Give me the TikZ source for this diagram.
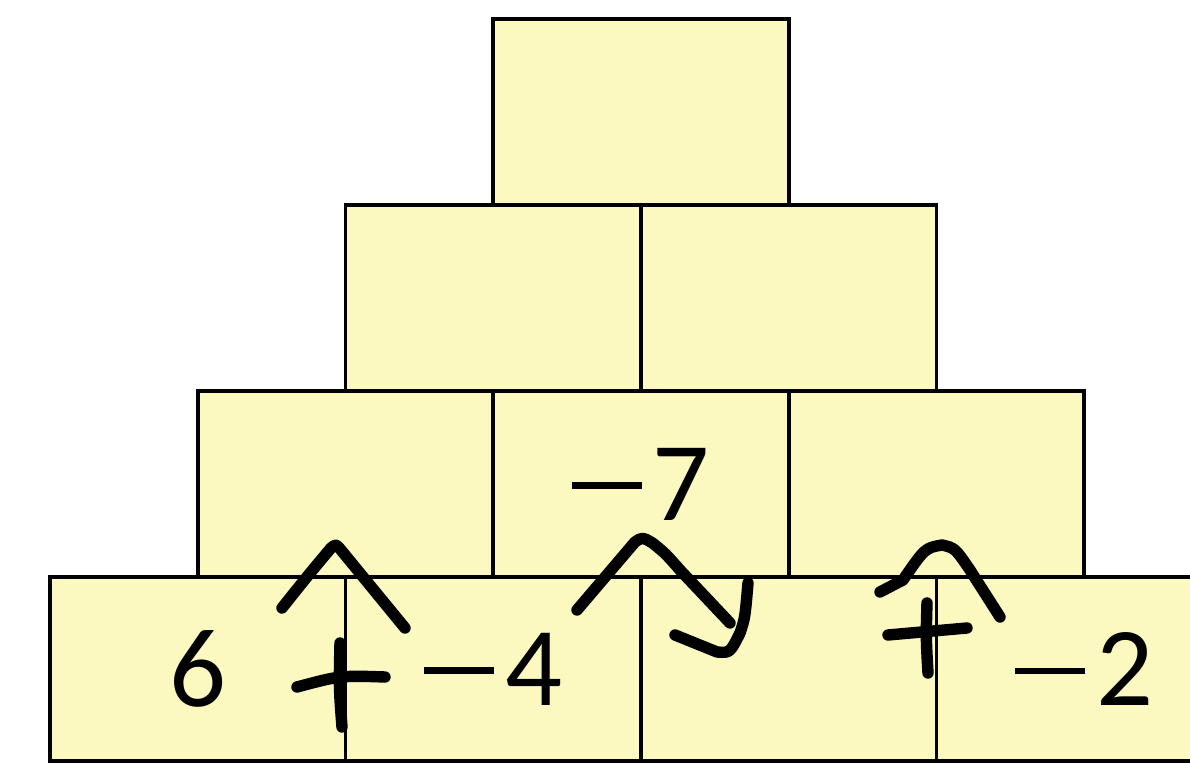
\documentclass[tikz,border=0pt]{standalone}
\usepackage{fontspec}
\setmainfont{Carlito}
\definecolor{boxfill}{RGB}{251,248,192}
\newcommand{\mns}{\rule[0.28em]{0.62em}{0.055em}\hspace{0.1em}}

\begin{document}
\begin{tikzpicture}[line width=2.2pt,
  brick/.style={draw, fill=boxfill, minimum width=5.91cm, minimum height=3.72cm,
    inner sep=0pt, font=\fontsize{64}{70}\selectfont},
  pen/.style={line width=6.5pt, line cap=round, line join=round}]
  \useasboundingbox (0,0) rectangle (23.8,15.26);
  % bricks, row by row from the bottom
  \foreach \i/\lbl in {1/6, 2/{\mns4}, 3/{}, 4/{\mns2}} {
    \node[brick, minimum height=3.68cm] (b4\i) at ({1+(\i-0.5)*5.91},1.88) {\lbl};
  }
  \foreach \i/\lbl in {1/{}, 2/{\mns7}, 3/{}} {
    \node[brick] (b3\i) at ({3.955+(\i-0.5)*5.91},5.58) {\lbl};
  }
  \foreach \i in {1, 2} { \node[brick] (b2\i) at ({6.91+(\i-0.5)*5.91},9.30) {}; }
  \node[brick] (b11) at (12.82,13.02) {};
  % hand-drawn marks
  \draw[pen] (5.64,3.10) .. controls (6.2,3.8) .. (6.62,4.30)
    .. controls (6.72,4.38) .. (6.82,4.26) -- (8.10,2.70);
  \draw[pen] (6.80,2.40) .. controls (6.78,1.5) .. (6.84,0.72);
  \draw[pen] (5.94,1.52) .. controls (6.8,1.75) .. (7.70,1.72);
  \draw[pen] (11.54,3.06) -- (12.70,4.42) .. controls (12.85,4.52) .. (13.05,4.40)
    .. controls (13.3,4.2) .. (13.60,3.86) -- (14.60,2.80);
  \draw[pen] (14.96,3.60) .. controls (14.9,2.9) .. (14.80,2.60)
    .. controls (14.6,2.2) .. (14.34,2.22) -- (13.50,2.56);
  \draw[pen] (17.60,3.42) -- (18.06,3.66) .. controls (18.5,4.3) .. (18.84,4.36)
    .. controls (19.1,4.3) .. (19.40,3.86) -- (20.00,2.92);
  \draw[pen] (18.54,3.20) .. controls (18.52,2.5) .. (18.56,1.80);
  \draw[pen] (17.76,2.56) -- (19.34,2.70);
\end{tikzpicture}
\end{document}
